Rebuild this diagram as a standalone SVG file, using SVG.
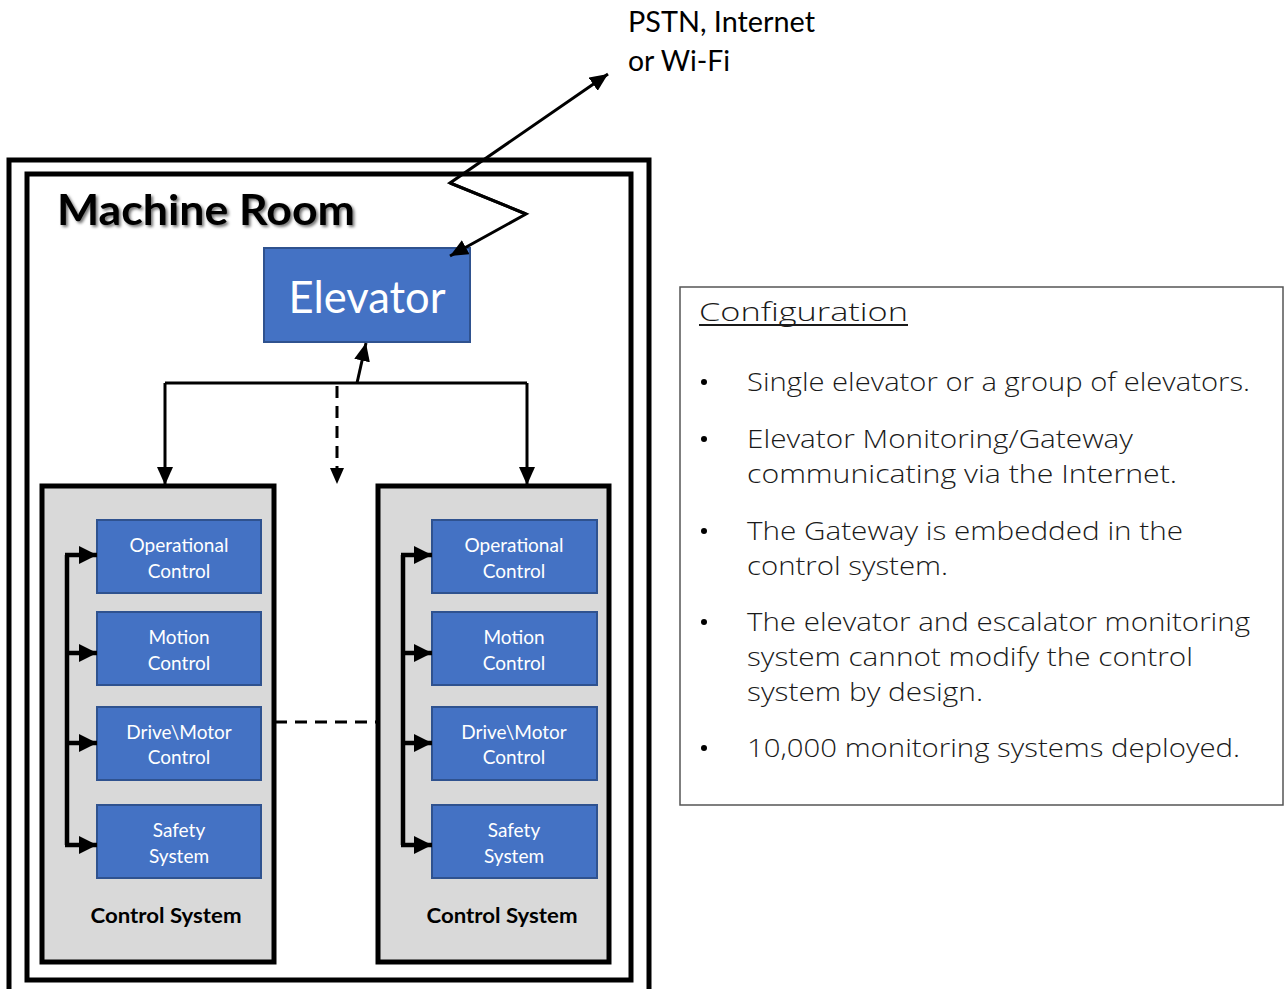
<svg xmlns="http://www.w3.org/2000/svg" width="1287" height="989" viewBox="0 0 1287 989">
  <style>
    .frame { fill: none; stroke: #000; stroke-width: 5; }
    .blue { fill: #4472C4; stroke: #2F528F; stroke-width: 2; }
    .ctl { fill: #D9D9D9; stroke: #000; stroke-width: 5; }
    .wt { fill: #fff; font-family: Lato, "Open Sans", sans-serif; font-size: 19px; text-anchor: middle; }
    .lbl { fill: #000; font-family: Lato, "Open Sans", sans-serif; font-weight: bold; font-size: 21px; text-anchor: middle; }
    .cfg { fill: #1a1a1a; font-family: "Open Sans", Lato, sans-serif; font-weight: 300; font-size: 25px; }
    .line { fill: none; stroke: #000; stroke-width: 3; }
    .bus { fill: none; stroke: #000; stroke-width: 4.5; }
    .dash { fill: none; stroke: #000; stroke-width: 3; stroke-dasharray: 12 8; }
  </style>
  <defs>
    <marker id="arr" markerUnits="userSpaceOnUse" markerWidth="20" markerHeight="16" refX="18" refY="8" orient="auto">
      <path d="M0,0 L18,8 L0,16 Z" fill="#000"/>
    </marker>
    <marker id="arrBig" markerUnits="userSpaceOnUse" markerWidth="20" markerHeight="18" refX="18" refY="9" orient="auto">
      <path d="M0,0 L18,9 L0,18 Z" fill="#000"/>
    </marker>
    <filter id="shadow" x="-5%" y="-20%" width="115%" height="150%">
      <feDropShadow dx="2" dy="2" stdDeviation="1.5" flood-color="#000" flood-opacity="0.55"/>
    </filter>
  </defs>

  <!-- building frames -->
  <g id="machine-room">
    <rect class="frame" x="9" y="160" width="640" height="840"/>
    <rect class="frame" x="27" y="174" width="604" height="806"/>
    <text x="57" y="225" font-family="Lato, 'Open Sans', sans-serif" font-weight="bold" font-size="42" textLength="298" lengthAdjust="spacingAndGlyphs" filter="url(#shadow)">Machine Room</text>
  </g>

  <!-- network label -->
  <g id="network">
    <text x="628" y="32" font-family="Lato, 'Open Sans', sans-serif" font-size="28" textLength="187" lengthAdjust="spacingAndGlyphs">PSTN, Internet</text>
    <text x="628" y="71" font-family="Lato, 'Open Sans', sans-serif" font-size="28" textLength="102" lengthAdjust="spacingAndGlyphs">or Wi-Fi</text>
  </g>

  <g id="elevator">
    <rect class="blue" x="264" y="248" width="206" height="94"/>
    <text x="367" y="313" fill="#fff" font-family="Lato, 'Open Sans', sans-serif" font-size="44" text-anchor="middle" textLength="157" lengthAdjust="spacingAndGlyphs">Elevator</text>
  </g>

  <!-- control system A -->
  <g id="control-system-a">
    <rect class="ctl" x="42" y="486" width="232" height="476"/>
    <rect class="blue" x="97" y="520" width="164" height="73"/>
    <text class="wt" x="179" y="552">Operational</text>
    <text class="wt" x="179" y="578">Control</text>
    <rect class="blue" x="97" y="612" width="164" height="73"/>
    <text class="wt" x="179" y="644">Motion</text>
    <text class="wt" x="179" y="670">Control</text>
    <rect class="blue" x="97" y="707" width="164" height="73"/>
    <text class="wt" x="179" y="739">Drive\Motor</text>
    <text class="wt" x="179" y="764">Control</text>
    <rect class="blue" x="97" y="805" width="164" height="73"/>
    <text class="wt" x="179" y="837">Safety</text>
    <text class="wt" x="179" y="863">System</text>
    <text class="lbl" x="166" y="923" textLength="151" lengthAdjust="spacingAndGlyphs">Control System</text>
  </g>

  <!-- control system B -->
  <g id="control-system-b">
    <rect class="ctl" x="378" y="486" width="231" height="476"/>
    <rect class="blue" x="432" y="520" width="165" height="73"/>
    <text class="wt" x="514" y="552">Operational</text>
    <text class="wt" x="514" y="578">Control</text>
    <rect class="blue" x="432" y="612" width="165" height="73"/>
    <text class="wt" x="514" y="644">Motion</text>
    <text class="wt" x="514" y="670">Control</text>
    <rect class="blue" x="432" y="707" width="165" height="73"/>
    <text class="wt" x="514" y="739">Drive\Motor</text>
    <text class="wt" x="514" y="764">Control</text>
    <rect class="blue" x="432" y="805" width="165" height="73"/>
    <text class="wt" x="514" y="837">Safety</text>
    <text class="wt" x="514" y="863">System</text>
    <text class="lbl" x="502" y="923" textLength="151" lengthAdjust="spacingAndGlyphs">Control System</text>
  </g>

  <!-- connectors -->
  <g id="connectors">
    <!-- network link (zigzag) -->
    <path class="line" d="M526,214 L450,183 L608,74" marker-end="url(#arr)"/>
    <path class="line" d="M450,183 L526,214 L450,256" marker-end="url(#arr)"/>
    <!-- distribution bus -->
    <path class="line" d="M165,383 L527,383"/>
    <path class="line" d="M165,383 L165,485" marker-end="url(#arr)"/>
    <path class="line" d="M527,383 L527,485" marker-end="url(#arr)"/>
    <path class="line" d="M357,383 L366,343" marker-end="url(#arr)"/>
    <path class="dash" d="M337,386 L337,468"/>
    <path d="M330,468 L344,468 L337,484 Z" fill="#000"/>
    <path class="dash" d="M275,722 L378,722"/>
    <!-- internal bus A -->
    <path class="bus" d="M67,555 L67,845"/>
    <path class="bus" d="M65,555 L97,555" marker-end="url(#arrBig)"/>
    <path class="bus" d="M67,653 L97,653" marker-end="url(#arrBig)"/>
    <path class="bus" d="M67,743 L97,743" marker-end="url(#arrBig)"/>
    <path class="bus" d="M65,845 L97,845" marker-end="url(#arrBig)"/>
    <!-- internal bus B -->
    <path class="bus" d="M403,555 L403,845"/>
    <path class="bus" d="M401,555 L432,555" marker-end="url(#arrBig)"/>
    <path class="bus" d="M403,653 L432,653" marker-end="url(#arrBig)"/>
    <path class="bus" d="M403,743 L432,743" marker-end="url(#arrBig)"/>
    <path class="bus" d="M401,845 L432,845" marker-end="url(#arrBig)"/>
  </g>

  <!-- configuration panel -->
  <g id="configuration">
    <rect x="680" y="287" width="603" height="518" fill="#fff" stroke="#555" stroke-width="1.5"/>
    <text class="cfg" x="699" y="321" font-size="29" textLength="209" lengthAdjust="spacingAndGlyphs">Configuration</text>
    <line x1="699" y1="325" x2="908" y2="325" stroke="#1a1a1a" stroke-width="1.8"/>
    <g fill="#000">
      <circle cx="704" cy="382" r="3"/>
      <circle cx="704" cy="439" r="3"/>
      <circle cx="704" cy="531" r="3"/>
      <circle cx="704" cy="622" r="3"/>
      <circle cx="704" cy="748" r="3"/>
    </g>
    <text class="cfg" x="747" y="391" textLength="503" lengthAdjust="spacingAndGlyphs">Single elevator or a group of elevators.</text>
    <text class="cfg" x="747" y="448" textLength="386" lengthAdjust="spacingAndGlyphs">Elevator Monitoring/Gateway</text>
    <text class="cfg" x="747" y="483" textLength="430" lengthAdjust="spacingAndGlyphs">communicating via the Internet.</text>
    <text class="cfg" x="747" y="540" textLength="436" lengthAdjust="spacingAndGlyphs">The Gateway is embedded in the</text>
    <text class="cfg" x="747" y="575" textLength="201" lengthAdjust="spacingAndGlyphs">control system.</text>
    <text class="cfg" x="747" y="631" textLength="503" lengthAdjust="spacingAndGlyphs">The elevator and escalator monitoring</text>
    <text class="cfg" x="747" y="666" textLength="446" lengthAdjust="spacingAndGlyphs">system cannot modify the control</text>
    <text class="cfg" x="747" y="701" textLength="236" lengthAdjust="spacingAndGlyphs">system by design.</text>
    <text class="cfg" x="747" y="757" textLength="493" lengthAdjust="spacingAndGlyphs">10,000 monitoring systems deployed.</text>
  </g>
</svg>
